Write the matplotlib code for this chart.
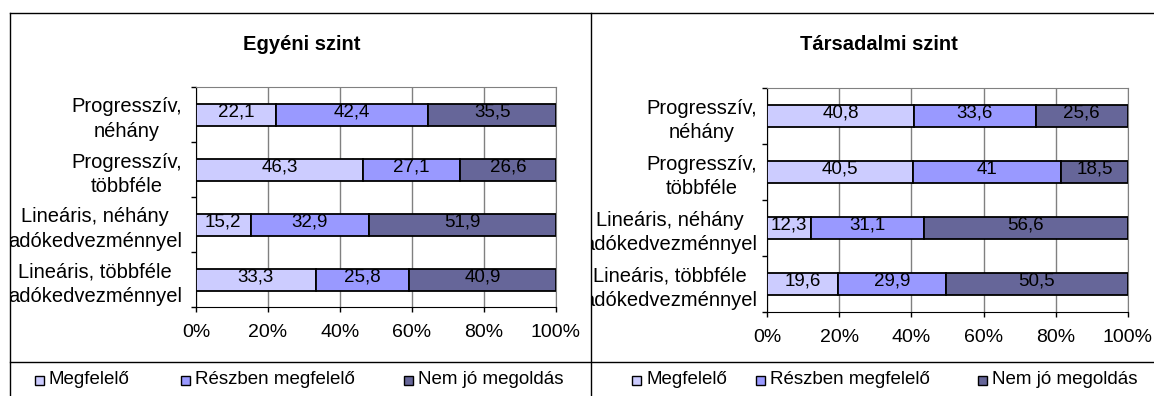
import numpy as np
import matplotlib.pyplot as plt
from matplotlib.lines import Line2D
from matplotlib.patches import Rectangle
from matplotlib.transforms import Bbox, TransformedBbox

plt.rcParams['font.family'] = ['Liberation Sans', 'DejaVu Sans']

categories = ['Progresszív,\nnéhány', 'Progresszív,\ntöbbféle',
              'Lineáris, néhány\nadókedvezménnyel', 'Lineáris, többféle\nadókedvezménnyel']
series = ['Megfelelő', 'Részben megfelelő', 'Nem jó megoldás']
colors = ['#CCCCFF', '#9999FF', '#666699']

egyeni = [[22.1, 46.3, 15.2, 33.3],
          [42.4, 27.1, 32.9, 25.8],
          [35.5, 26.6, 51.9, 40.9]]
tarsadalmi = [[40.8, 40.5, 12.3, 19.6],
              [33.6, 41, 31.1, 29.9],
              [25.6, 18.5, 56.6, 50.5]]

W, H = 1154, 396
fig = plt.figure(figsize=(W / 100, H / 100), dpi=100)

def fx(px):
    return px / W

def fy(py):
    return 1 - py / H

def fmt(v):
    return ('%g' % v).replace('.', ',')

def panel(rect, data, title, title_x, legend_x, frame_x, ypad):
    ax = fig.add_axes(rect)
    y = np.arange(len(categories))
    left = np.zeros(len(categories))
    for vals, name, col in zip(data, series, colors):
        vals = np.array(vals)
        ax.barh(y, vals, left=left, height=0.4, color=col,
                edgecolor='black', linewidth=1.3, label=name, zorder=3)
        for yi, l, v in zip(y, left, vals):
            ax.text(l + v / 2, yi - 0.05, fmt(v), ha='center', va='center',
                    fontsize=13.5, zorder=4)
        left += vals
    ax.set_xlim(0, 100)
    ax.set_ylim(len(categories) - 0.5, -0.5)
    ax.set_xticks(np.arange(0, 101, 20))
    ax.set_xticklabels(['%d%%' % t for t in range(0, 101, 20)], fontsize=14)
    ax.set_yticks(y)
    ax.set_yticklabels(categories, fontsize=14.5, multialignment='center',
                       linespacing=1.35)
    ax.set_yticks(np.arange(-0.5, len(categories)), minor=True)
    ax.tick_params(axis='y', which='major', length=0, pad=ypad)
    ax.tick_params(axis='y', which='minor', length=3.5, width=1, color='black')
    ax.tick_params(axis='x', length=3.5, width=1, pad=9)
    ax.grid(axis='x', color='#808080', linewidth=1, zorder=0)
    for s in ['top', 'right']:
        ax.spines[s].set_color('#808080')
    for s in ['left', 'bottom']:
        ax.spines[s].set_color('black')
    # category labels stay inside their own chart frame
    clip = TransformedBbox(Bbox([[fx(frame_x), 0], [1, 1]]), fig.transFigure)
    for lab in ax.get_yticklabels():
        lab.set_clip_box(clip)
        lab.set_clip_on(True)
    fig.text(fx(title_x), fy(44), title, ha='center', va='center',
             fontsize=14.5, fontweight='bold')
    # legend row
    for lx, name, col in zip(legend_x, series, colors):
        fig.patches.append(Rectangle((fx(lx), fy(385)), fx(9), 9 / H,
                                     transform=fig.transFigure, facecolor=col,
                                     edgecolor='black', linewidth=1))
        fig.text(fx(lx + 14), fy(380), name, ha='left', va='center', fontsize=13.5)
    return ax

panel([fx(196), fy(307), fx(360), (307 - 87) / H], egyeni,
      'Egyéni szint', 302, [35, 181, 404], 10, 10)
panel([fx(767), fy(312), fx(361), (312 - 88) / H], tarsadalmi,
      'Társadalmi szint', 879, [632, 756, 978], 591, 7)

# chart frames
frame = dict(color='black', linewidth=1, transform=fig.transFigure)
fig.add_artist(Line2D([fx(10), 1], [fy(13), fy(13)], **frame))
fig.add_artist(Line2D([fx(10), fx(10)], [fy(13), 0], **frame))
fig.add_artist(Line2D([fx(591), fx(591)], [fy(13), 0], **frame))
fig.add_artist(Line2D([fx(10), 1], [fy(362), fy(362)], **frame))

fig.savefig('out.png', dpi=100)
